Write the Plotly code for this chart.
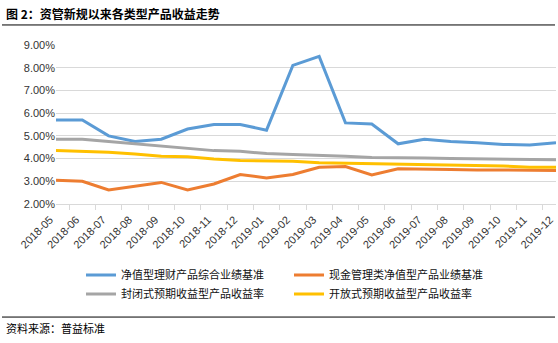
import plotly.graph_objects as go

months = ["2018-05","2018-06","2018-07","2018-08","2018-09","2018-10","2018-11","2018-12",
          "2019-01","2019-02","2019-03","2019-04","2019-05","2019-06","2019-07","2019-08",
          "2019-09","2019-10","2019-11","2019-12"]

net_value = [5.70,5.70,5.00,4.75,4.85,5.30,5.50,5.50,5.25,8.10,8.50,5.57,5.52,4.65,4.85,4.75,4.70,4.62,4.60,4.70]
cash_mgmt = [3.05,3.00,2.62,2.78,2.95,2.62,2.88,3.30,3.15,3.30,3.62,3.65,3.28,3.55,3.55,3.52,3.50,3.50,3.48,3.48]
closed_exp = [4.85,4.85,4.75,4.65,4.55,4.45,4.35,4.32,4.22,4.18,4.15,4.10,4.05,4.02,4.02,4.00,3.98,3.98,3.95,3.95]
open_exp = [4.35,4.32,4.28,4.20,4.10,4.08,3.98,3.92,3.90,3.88,3.82,3.80,3.78,3.77,3.75,3.73,3.70,3.67,3.62,3.62]

names = ["净值型理财产品综合业绩基准","现金管理类净值型产品业绩基准",
         "封闭式预期收益型产品收益率","开放式预期收益型产品收益率"]
colors = ["#5B9BD5","#ED7D31","#A5A5A5","#FFC000"]
series = [net_value, cash_mgmt, closed_exp, open_exp]
y_ticks = [2,3,4,5,6,7,8,9]
y_ticktext = [f"{v:.2f}%" for v in y_ticks]

cjk = "Noto Sans CJK SC"
fig = go.Figure()
for n, c, s in zip(names, colors, series):
    fig.add_trace(go.Scatter(x=months, y=s, name=n, mode="lines",
                             line=dict(color=c, width=3)))

fig.update_layout(
    width=558, height=343,
    margin=dict(l=56, r=2, t=45, b=139),
    paper_bgcolor="white", plot_bgcolor="white",
    font=dict(family="Arial, Liberation Sans, " + cjk, size=11, color="#333333"),
    showlegend=True,
    legend=dict(orientation="h", x=0.05, xanchor="left", y=-0.355, yanchor="top",
                entrywidth=163, font=dict(family=cjk, size=11, color="#111111"),
                tracegroupgap=0),
    xaxis=dict(type="category", tickangle=-45, tickson="boundaries", ticks="outside",
               ticklen=5, tickcolor="#D9D9D9", showline=True, linecolor="#D9D9D9",
               showgrid=False, tickfont=dict(size=11, color="#333333"),
               ticklabelstandoff=4, ticklabelshift=-6, automargin=False),
    yaxis=dict(range=[2, 9], tickvals=y_ticks, ticktext=y_ticktext,
               showgrid=True, gridcolor="#D9D9D9", zeroline=False, showline=False,
               tickfont=dict(size=11, color="#333333"), ticks="", automargin=False),
    annotations=[
        dict(text="<b>图 2：资管新规以来各类型产品收益走势</b>", xref="paper", yref="paper",
             x=-0.104, y=1.20, xanchor="left", yanchor="middle", showarrow=False,
             font=dict(family=cjk, size=12, color="#000000")),
        dict(text="资料来源：普益标准", xref="paper", yref="paper",
             x=-0.104, y=-0.78, xanchor="left", yanchor="middle", showarrow=False,
             font=dict(family=cjk, size=11, color="#000000")),
    ],
    shapes=[
        dict(type="line", xref="paper", yref="paper", x0=-0.108, x1=0.998, y0=1.126, y1=1.126,
             line=dict(color="#000000", width=1)),
        dict(type="line", xref="paper", yref="paper", x0=-0.108, x1=0.998, y0=-0.711, y1=-0.711,
             line=dict(color="#000000", width=1)),
    ],
)

fig.write_html("out.html")
